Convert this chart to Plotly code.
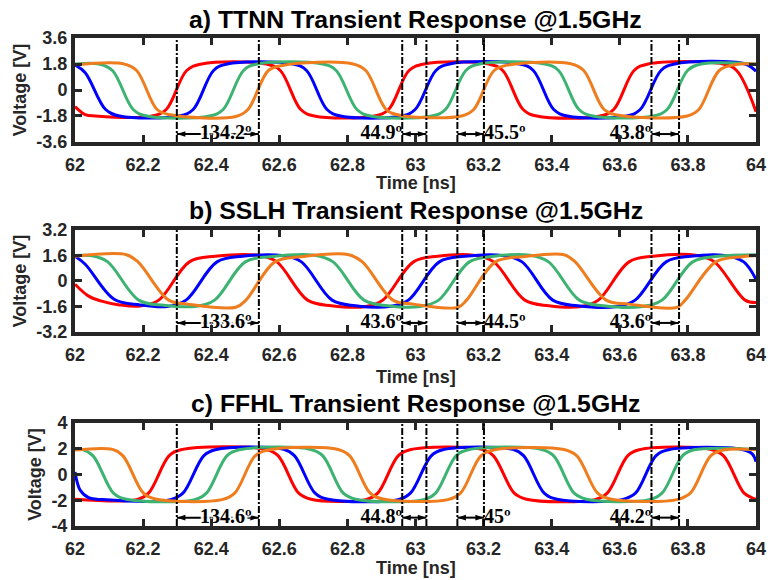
import plotly.graph_objects as go

# ---------------- data ----------------
# time axis ticks [ns]
x_ticks = [62.0, 62.2, 62.4, 62.6, 62.8, 63.0, 63.2, 63.4, 63.6, 63.8, 64.0]
x_tick_text = ["62", "62.2", "62.4", "62.6", "62.8", "63", "63.2", "63.4", "63.6", "63.8", "64"]

# voltage ticks per corner
ttnn_yticks = [-3.6, -1.8, 0, 1.8, 3.6]
ttnn_ytext = ["-3.6", "-1.8", "0", "1.8", "3.6"]
sslh_yticks = [-3.2, -1.6, 0, 1.6, 3.2]
sslh_ytext = ["-3.2", "-1.6", "0", "1.6", "3.2"]
ffhl_yticks = [-4, -2, 0, 2, 4]
ffhl_ytext = ["-4", "-2", "0", "2", "4"]

# phase-measurement markers [ns], arrow pairs and label anchor times
marker_times = [62.299, 62.540, 62.961, 63.032, 63.123, 63.201, 63.693, 63.774]
arrow_pairs = [(62.299, 62.540), (62.961, 63.032), (63.123, 63.201), (63.693, 63.774)]
phase_label_x = [62.443, 62.961, 63.201, 63.693]

ttnn_phase_labels = ["134.2\u00ba", "44.9\u00ba", "45.5\u00ba", "43.8\u00ba"]
sslh_phase_labels = ["133.6\u00ba", "43.6\u00ba", "44.5\u00ba", "43.6\u00ba"]
ffhl_phase_labels = ["134.6\u00ba", "44.8\u00ba", "45\u00ba", "44.2\u00ba"]

# ---- TTNN corner waveforms (time [ns], voltage [V]) ----
ttnn_red_t = [62.0, 62.03, 62.06, 62.226, 62.268, 62.328, 62.372, 62.562, 62.603, 62.663, 62.703,
              62.879, 62.921, 62.981, 63.025, 63.215, 63.256, 63.316, 63.356, 63.542, 63.582,
              63.642, 63.683, 63.903, 63.943, 64.0]
ttnn_red_v = [-1.15, -1.7, -1.8, -1.8, -1.35, 1.35, 1.8, 1.8, 1.35, -1.35, -1.8,
              -1.8, -1.35, 1.35, 1.8, 1.8, 1.35, -1.35, -1.8, -1.8, -1.35,
              1.35, 1.8, 1.8, 1.35, -1.5]
ttnn_blue_t = [62.0, 62.03, 62.09, 62.131, 62.306, 62.347, 62.407, 62.447, 62.64, 62.68,
               62.74, 62.78, 62.959, 62.999, 63.06, 63.1, 63.306, 63.346, 63.406, 63.446,
               63.62, 63.66, 63.721, 63.761, 63.968, 64.0]
ttnn_blue_v = [1.72, 1.2, -1.35, -1.8, -1.8, -1.35, 1.35, 1.8, 1.8, 1.35,
               -1.35, -1.8, -1.8, -1.35, 1.35, 1.8, 1.8, 1.35, -1.35, -1.8,
               -1.8, -1.35, 1.35, 1.8, 1.8, 1.3]
ttnn_green_t = [62.0, 62.07, 62.11, 62.171, 62.211, 62.395, 62.435, 62.495, 62.535, 62.727,
                62.767, 62.828, 62.868, 63.048, 63.088, 63.148, 63.188, 63.38, 63.42,
                63.48, 63.521, 63.698, 63.739, 63.799, 63.839, 64.0]
ttnn_green_v = [1.8, 1.8, 1.35, -1.35, -1.8, -1.8, -1.35, 1.35, 1.8, 1.8,
                1.35, -1.35, -1.8, -1.8, -1.35, 1.35, 1.8, 1.8, 1.35,
                -1.35, -1.8, -1.8, -1.35, 1.35, 1.8, 1.8]
ttnn_orange_t = [62.0, 62.141, 62.181, 62.241, 62.281, 62.472, 62.508, 62.568, 62.613, 62.814,
                 62.854, 62.914, 62.954, 63.135, 63.171, 63.231, 63.276, 63.456, 63.494, 63.554,
                 63.597, 63.798, 63.832, 63.892, 63.938, 64.0]
ttnn_orange_v = [1.75, 1.82, 1.35, -1.35, -1.72, -1.84, -1.35, 1.35, 1.72, 1.82,
                 1.35, -1.35, -1.75, -1.8, -1.35, 1.35, 1.75, 1.82, 1.35, -1.35,
                 -1.75, -1.8, -1.35, 1.35, 1.75, 1.8]

# ---- SSLH corner waveforms ----
sslh_red_t = [62.0, 62.04, 62.075, 62.131, 62.191, 62.246, 62.336, 62.412, 62.542, 62.593,
              62.683, 62.753, 62.854, 62.904, 62.994, 63.065, 63.175, 63.23, 63.321, 63.391,
              63.487, 63.537, 63.627, 63.697, 63.828, 63.878, 63.968, 64.0]
sslh_red_v = [-0.2, -0.95, -1.25, -1.5, -1.57, -1.2, 1.2, 1.55, 1.6, 1.2,
              -1.2, -1.55, -1.6, -1.2, 1.2, 1.55, 1.6, 1.2, -1.2, -1.55,
              -1.6, -1.2, 1.2, 1.55, 1.6, 1.2, -1.2, -1.35]
sslh_blue_t = [62.0, 62.03, 62.115, 62.191, 62.271, 62.326, 62.417, 62.492, 62.613, 62.665,
               62.755, 62.824, 62.924, 62.979, 63.07, 63.145, 63.256, 63.313, 63.403, 63.476,
               63.592, 63.645, 63.736, 63.808, 63.908, 63.964, 64.0]
sslh_blue_v = [1.55, 1.05, -1.15, -1.5, -1.6, -1.2, 1.2, 1.55, 1.58, 1.2,
               -1.2, -1.55, -1.6, -1.2, 1.2, 1.55, 1.6, 1.2, -1.2, -1.55,
               -1.6, -1.2, 1.2, 1.55, 1.6, 1.2, 0.1]
sslh_green_t = [62.0, 62.05, 62.096, 62.187, 62.261, 62.357, 62.41, 62.5, 62.573, 62.703,
                62.758, 62.849, 62.919, 63.014, 63.068, 63.158, 63.23, 63.336, 63.391,
                63.481, 63.552, 63.667, 63.724, 63.814, 63.888, 64.0]
sslh_green_v = [1.6, 1.58, 1.2, -1.2, -1.52, -1.58, -1.2, 1.2, 1.52, 1.62,
                1.2, -1.2, -1.55, -1.6, -1.2, 1.2, 1.55, 1.62, 1.2,
                -1.2, -1.55, -1.6, -1.2, 1.2, 1.55, 1.65]
sslh_orange_t = [62.0, 62.151, 62.185, 62.275, 62.331, 62.472, 62.502, 62.587, 62.663, 62.804,
                 62.844, 62.934, 62.994, 63.125, 63.15, 63.235, 63.316, 63.436, 63.469, 63.56,
                 63.627, 63.768, 63.792, 63.882, 63.959, 64.0]
sslh_orange_v = [1.55, 1.65, 1.2, -1.2, -1.45, -1.65, -1.2, 1.2, 1.52, 1.65,
                 1.2, -1.2, -1.45, -1.65, -1.2, 1.2, 1.52, 1.65, 1.2, -1.2,
                 -1.45, -1.65, -1.2, 1.2, 1.52, 1.58]

# ---- FFHL corner waveforms ----
ffhl_red_t = [62.0, 62.181, 62.216, 62.276, 62.311, 62.562, 62.597, 62.657, 62.693, 62.854,
              62.889, 62.949, 62.984, 63.195, 63.229, 63.29, 63.326, 63.527, 63.563, 63.623,
              63.657, 63.868, 63.905, 63.965, 63.995, 64.0]
ffhl_red_v = [-1.92, -1.95, -1.45, 1.45, 1.92, 1.95, 1.45, -1.45, -1.92, -1.95,
              -1.45, 1.45, 1.92, 1.95, 1.45, -1.45, -1.92, -1.95, -1.45, 1.45,
              1.92, 1.95, 1.45, -1.45, -1.88, -1.93]
ffhl_blue_t = [62.0, 62.015, 62.04, 62.08, 62.281, 62.317, 62.378, 62.412, 62.613, 62.645,
               62.705, 62.743, 62.949, 62.985, 63.046, 63.08, 63.286, 63.318, 63.378, 63.416,
               63.607, 63.646, 63.706, 63.743, 63.959, 63.989, 64.0]
ffhl_blue_v = [0.2, -1.2, -1.8, -1.95, -1.95, -1.45, 1.45, 1.92, 1.95, 1.45,
               -1.45, -1.92, -1.95, -1.45, 1.45, 1.92, 1.95, 1.45, -1.45, -1.92,
               -1.95, -1.45, 1.45, 1.92, 1.95, 1.6, 1.0]
ffhl_green_t = [62.0, 62.02, 62.053, 62.113, 62.151, 62.352, 62.386, 62.446, 62.482, 62.693,
                62.728, 62.788, 62.824, 63.024, 63.059, 63.119, 63.155, 63.371, 63.406,
                63.466, 63.502, 63.687, 63.724, 63.784, 63.818, 64.0]
ffhl_green_v = [1.95, 1.95, 1.45, -1.45, -1.92, -1.95, -1.45, 1.45, 1.92, 1.95,
                1.45, -1.45, -1.92, -1.95, -1.45, 1.45, 1.92, 1.95, 1.45,
                -1.45, -1.92, -1.95, -1.45, 1.45, 1.92, 1.95]
ffhl_orange_t = [62.0, 62.11, 62.141, 62.201, 62.236, 62.432, 62.469, 62.529, 62.567, 62.773,
                 62.807, 62.867, 62.904, 63.095, 63.132, 63.192, 63.23, 63.436, 63.474,
                 63.535, 63.572, 63.768, 63.807, 63.867, 63.903, 64.0]
ffhl_orange_v = [1.9, 1.95, 1.45, -1.45, -1.9, -1.95, -1.45, 1.45, 1.9, 1.95,
                 1.45, -1.45, -1.9, -1.95, -1.45, 1.45, 1.9, 1.95, 1.45,
                 -1.45, -1.9, -1.95, -1.45, 1.45, 1.9, 1.95]

# ---------------- styling ----------------
phase_colors = ["#ff0000", "#0000ff", "#3cb371", "#ef7d1e"]
axis_color = "#262626"
sans = "Liberation Sans, Arial, sans-serif"
serif = "Liberation Serif, Times New Roman, serif"

panels = [
    dict(title="a) TTNN Transient Response @1.5GHz", yticks=ttnn_yticks, ytext=ttnn_ytext,
         waves=[(ttnn_red_t, ttnn_red_v), (ttnn_blue_t, ttnn_blue_v),
                (ttnn_green_t, ttnn_green_v), (ttnn_orange_t, ttnn_orange_v)],
         labels=ttnn_phase_labels, arrow_y=-3.05,
         domain=[0.7869, 1.0], title_y=1.037, xlab_y=0.703),
    dict(title="b) SSLH Transient Response @1.5GHz", yticks=sslh_yticks, ytext=sslh_ytext,
         waves=[(sslh_red_t, sslh_red_v), (sslh_blue_t, sslh_blue_v),
                (sslh_green_t, sslh_green_v), (sslh_orange_t, sslh_orange_v)],
         labels=sslh_phase_labels, arrow_y=-2.63,
         domain=[0.3975, 0.6066], title_y=0.6475, xlab_y=0.306),
    dict(title="c) FFHL Transient Response @1.5GHz", yticks=ffhl_yticks, ytext=ffhl_ytext,
         waves=[(ffhl_red_t, ffhl_red_v), (ffhl_blue_t, ffhl_blue_v),
                (ffhl_green_t, ffhl_green_v), (ffhl_orange_t, ffhl_orange_v)],
         labels=ffhl_phase_labels, arrow_y=-3.35,
         domain=[0.0, 0.211], title_y=0.252, xlab_y=-0.087),
]

fig = go.Figure()
shapes = []
annotations = []
label_font = dict(family=serif, size=20, color="black", weight="bold")
label_positions = ["middle center", "middle left", "middle right", "middle left"]

for i, p in enumerate(panels):
    n = "" if i == 0 else str(i + 1)
    xa, ya = "x" + n, "y" + n

    # the four phases
    for (t, v), c in zip(p["waves"], phase_colors):
        fig.add_trace(go.Scatter(x=t, y=v, mode="lines", xaxis=xa, yaxis=ya,
                                 line=dict(color=c, width=3, shape="spline", smoothing=1),
                                 hoverinfo="skip", showlegend=False))

    # double-headed arrows between marker pairs
    ax_x, ax_y, ax_ang = [], [], []
    for a0, a1 in arrow_pairs:
        ax_x += [a0, a1, None]
        ax_y += [p["arrow_y"], p["arrow_y"], None]
        ax_ang += [-90, 90, 0]
    fig.add_trace(go.Scatter(x=ax_x, y=ax_y, mode="lines+markers", xaxis=xa, yaxis=ya,
                             line=dict(color="black", width=2),
                             marker=dict(symbol="arrow", size=9, color="black",
                                         angle=ax_ang, angleref="up"),
                             hoverinfo="skip", showlegend=False))

    # phase labels: the wide one is haloed so the arrow shaft stays behind it
    fig.add_trace(go.Scatter(x=phase_label_x[:1], y=[p["arrow_y"]], text=p["labels"][:1],
                             mode="text", textposition="middle center", xaxis=xa, yaxis=ya,
                             textfont=dict(label_font, shadow="white 3px 0px 1px, white -3px 0px 1px, "
                                                            "white 0px 2px 1px, white 0px -2px 1px"),
                             hoverinfo="skip", showlegend=False))
    fig.add_trace(go.Scatter(x=phase_label_x[1:], y=[p["arrow_y"]] * 3, text=p["labels"][1:],
                             mode="text", textposition=label_positions[1:], xaxis=xa, yaxis=ya,
                             textfont=label_font, hoverinfo="skip", showlegend=False))

    axis_common = dict(showline=True, linewidth=4, linecolor=axis_color, mirror="all",
                       ticks="inside", ticklen=7, tickwidth=3, tickcolor=axis_color,
                       showgrid=False, zeroline=False, automargin=False,
                       tickfont=dict(family=sans, size=18, color=axis_color, weight="bold"))
    fig.update_layout({
        "xaxis" + n: dict(axis_common, range=[62, 64], tickvals=x_ticks, ticktext=x_tick_text,
                          ticklabelstandoff=3, domain=[0, 1], anchor=ya),
        "yaxis" + n: dict(axis_common, range=[p["yticks"][0], p["yticks"][-1]],
                          tickvals=p["yticks"], ticktext=p["ytext"],
                          title=dict(text="Voltage [V]", standoff=6,
                                     font=dict(family=sans, size=18, color=axis_color,
                                               weight="bold")),
                          domain=p["domain"], anchor=xa),
    })

    # dash-dot phase markers
    for t in marker_times:
        shapes.append(dict(type="line", xref=xa, yref=ya + " domain", x0=t, x1=t, y0=0, y1=1,
                           line=dict(color="black", width=2, dash="7px,2px,2px,2px")))

    # panel title and time-axis title
    annotations.append(dict(xref="paper", yref="paper", x=0.5, y=p["title_y"], text=p["title"],
                            showarrow=False, xanchor="center", yanchor="middle",
                            font=dict(family=sans, size=24.8, color="black", weight="bold")))
    annotations.append(dict(xref="paper", yref="paper", x=0.5, y=p["xlab_y"], text="Time [ns]",
                            showarrow=False, xanchor="center", yanchor="middle",
                            font=dict(family=sans, size=18, color=axis_color, weight="bold")))

fig.update_layout(width=768, height=580, margin=dict(l=75, r=12, t=38, b=54),
                  paper_bgcolor="white", plot_bgcolor="white", showlegend=False,
                  font=dict(family=sans, weight="bold"),
                  shapes=shapes, annotations=annotations)

fig.write_html("out.html")
